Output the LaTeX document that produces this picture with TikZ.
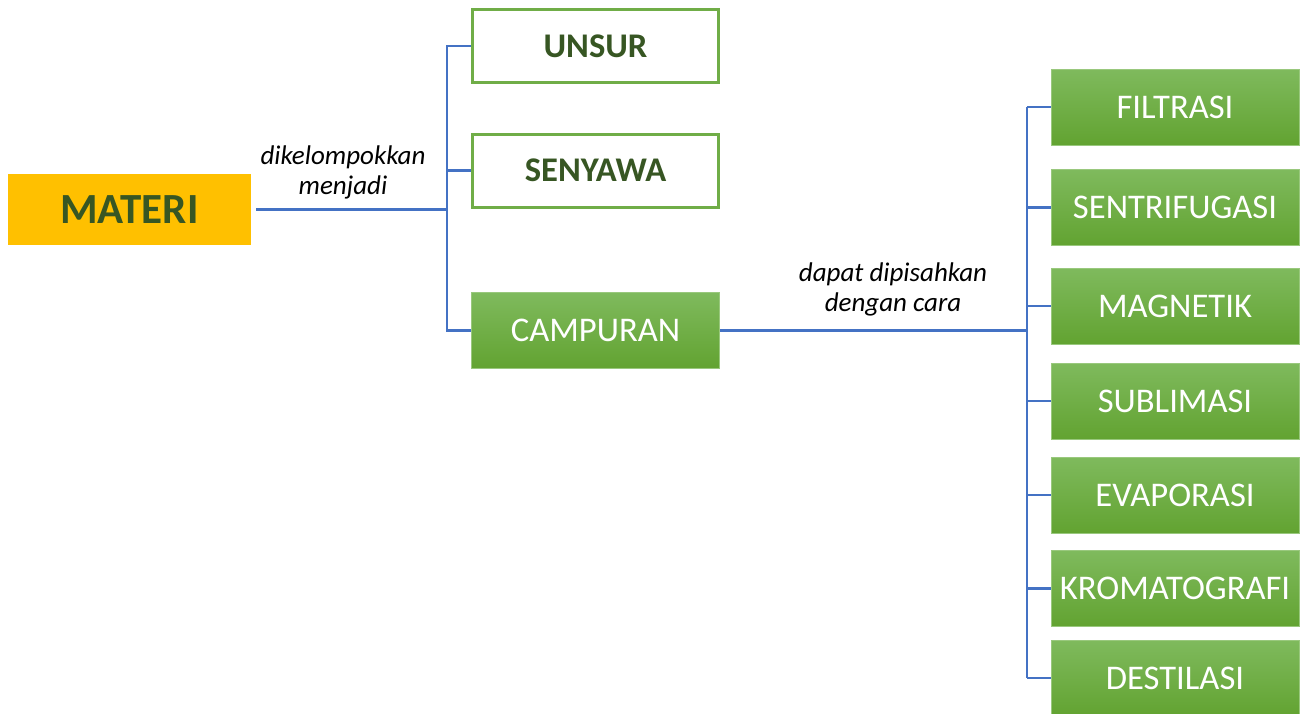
\documentclass[tikz,border=0pt]{standalone}
\usepackage{fontspec}
\setmainfont{Carlito}
\definecolor{gold}{HTML}{FFC000}
\definecolor{dkgreen}{HTML}{375623}
\definecolor{brgreen}{HTML}{70AD47}
\definecolor{gtop}{HTML}{7FBA5D}
\definecolor{gbot}{HTML}{62A331}
\definecolor{lineblue}{HTML}{4472C4}
\tikzset{
  mainbox/.style={fill=gold, minimum width=243pt, minimum height=71pt, inner sep=0pt, text=dkgreen, font=\fontsize{43}{48}\selectfont\bfseries},
  outbox/.style={draw=brgreen, line width=3pt, fill=white, minimum width=246pt, minimum height=73pt, inner sep=0pt, text=dkgreen, font=\fontsize{34.6}{40}\selectfont\bfseries},
  grbox/.style={top color=gtop, bottom color=gbot, draw=gtop!80!white, line width=0.6pt, minimum width=248pt, minimum height=76pt, inner sep=0pt, text=white, font=\fontsize{34.6}{40}\selectfont},
  conn/.style={draw=lineblue, line width=2.5pt},
  lbl/.style={align=center, font=\fontsize{27}{30}\selectfont\itshape, text=black}
}
\begin{document}
\begin{tikzpicture}[x=1pt,y=-1pt]
\useasboundingbox (0,0) rectangle (1305,713);
\node[mainbox] (materi) at (129.5,209.5) {MATERI};
\node[outbox] (unsur) at (595.5,46) {UNSUR};
\node[outbox] (senyawa) at (595.5,170.5) {SENYAWA};
\node[grbox] (campuran) at (595.5,330.5) {CAMPURAN};
\node[grbox] (filtrasi) at (1175,107) {FILTRASI};
\node[grbox] (sentri) at (1175,207.5) {SENTRIFUGASI};
\node[grbox] (magnet) at (1175,306) {MAGNETIK};
\node[grbox] (subli) at (1175,401) {SUBLIMASI};
\node[grbox] (evapo) at (1175,495) {EVAPORASI};
\node[grbox] (kroma) at (1175,588.5) {KROMATOGRAFI};
\node[grbox] (desti) at (1175,678) {DESTILASI};
\node[lbl] (l1) at (343,172) {dikelompokkan\\menjadi};
\node[lbl] (l2) at (893,289) {dapat dipisahkan\\dengan cara};
\coordinate (bus1) at (447,209.5);
\coordinate (bus2) at (1027,330.5);
% left tree
\draw[conn] ([xshift=5pt]materi.east) -- (bus1);
\draw[conn, line cap=rect] (bus1 |- unsur.west) -- (bus1 |- campuran.west);
\draw[conn] (bus1 |- unsur.west) -- (unsur.west);
\draw[conn] (bus1 |- senyawa.west) -- (senyawa.west);
\draw[conn] (bus1 |- campuran.west) -- (campuran.west);
% right tree
\draw[conn] (campuran.east) -- (bus2);
\draw[conn] (bus2 |- filtrasi.west) -- (bus2 |- desti.west);
\foreach \n in {filtrasi,sentri,magnet,subli,evapo,kroma,desti}
  \draw[conn] (bus2 |- \n.west) -- (\n.west);
\end{tikzpicture}
\end{document}
